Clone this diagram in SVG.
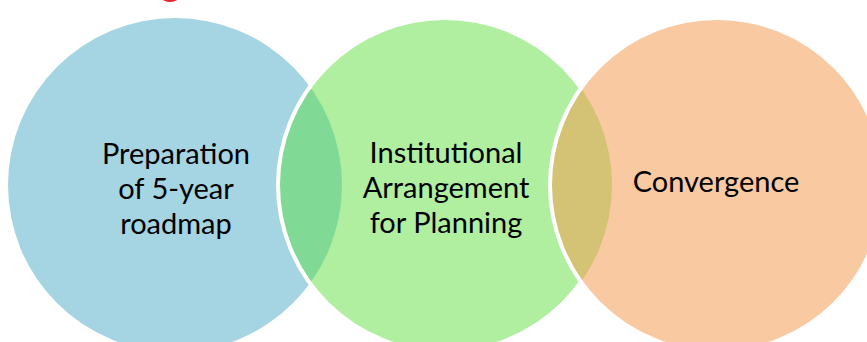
<svg xmlns="http://www.w3.org/2000/svg" width="867" height="342" viewBox="0 0 867 342">
<style>
.lbl{font-family:"Lato","Liberation Sans",sans-serif;font-size:29px;fill:#000;text-anchor:middle}
.ring{fill:none;stroke:#fff;stroke-width:4}
</style>
<defs>
<clipPath id="cB"><circle cx="175" cy="185" r="167"/></clipPath>
<clipPath id="cG"><circle cx="445" cy="185" r="167"/></clipPath>
<mask id="notO" maskUnits="userSpaceOnUse" x="0" y="0" width="867" height="342">
<rect x="0" y="0" width="867" height="342" fill="#fff"/>
<circle cx="717" cy="185" r="167" fill="#000"/>
</mask>
</defs>
<rect width="867" height="342" fill="#fff"/>
<ellipse cx="170" cy="-2" rx="8" ry="4" fill="#e8262b"/>
<g id="node-roadmap">
<circle cx="175" cy="185" r="167" fill="#a5d5e2"/>
</g>
<g id="node-institutional">
<circle cx="445" cy="185" r="167" fill="#b0efa0"/>
</g>
<g id="node-convergence">
<circle cx="717" cy="185" r="167" fill="#f9caa2"/>
</g>
<g id="overlaps">
<circle cx="445" cy="185" r="167" fill="#80da95" clip-path="url(#cB)"/>
<circle cx="717" cy="185" r="167" fill="#d4c275" clip-path="url(#cG)"/>
</g>
<g id="connectors">
<circle class="ring" cx="445" cy="185" r="167" mask="url(#notO)"/>
<circle class="ring" cx="717" cy="185" r="167"/>
</g>
<g id="labels">
<text class="lbl" x="176" y="164">Preparation</text>
<text class="lbl" x="176" y="199">of 5-year</text>
<text class="lbl" x="176" y="234">roadmap</text>
<text class="lbl" x="446" y="163">Institutional</text>
<text class="lbl" x="446" y="198">Arrangement</text>
<text class="lbl" x="446" y="233">for Planning</text>
<text class="lbl" x="716" y="192">Convergence</text>
</g>
</svg>
